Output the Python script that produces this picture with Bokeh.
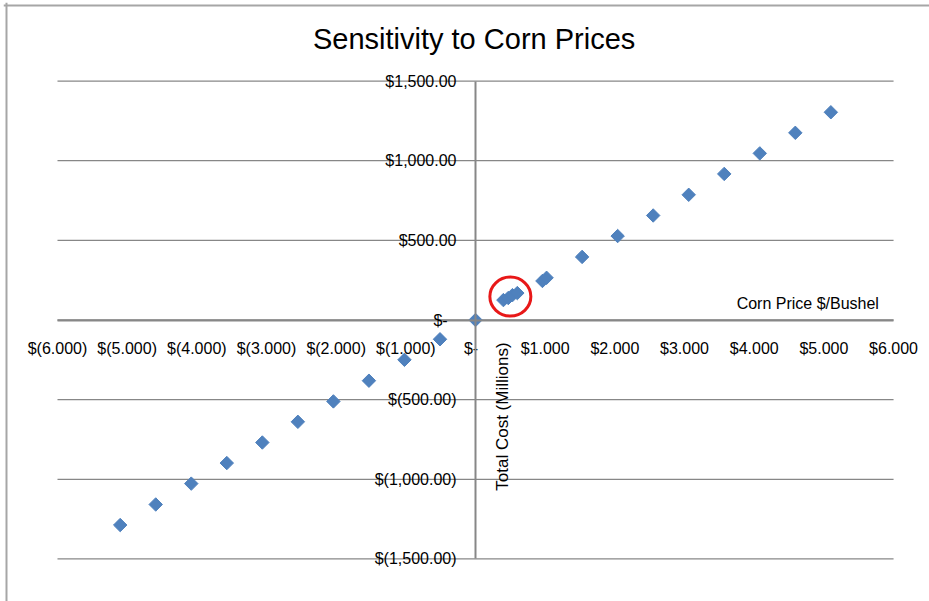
import numpy as np
from bokeh.plotting import figure
from bokeh.models import Range1d, FixedTicker, Label, ColumnDataSource, Span
from bokeh.embed import file_html
from bokeh.resources import INLINE

# ---- data ----
corn_price = [-5.10, -4.59, -4.08, -3.57, -3.06, -2.55, -2.04, -1.53, -1.02, -0.51,
              0.0, 0.40, 0.47, 0.53, 0.60, 0.96, 1.02,
              1.53, 2.04, 2.55, 3.06, 3.57, 4.08, 4.59, 5.10]
total_cost = [-1287, -1158, -1027, -898, -769, -639, -511, -381, -250, -121,
              0, 125, 138, 156, 169, 245, 265,
              396, 527, 656, 786, 917, 1046, 1175, 1304]
highlight_idx = [11, 12, 13, 14]

x_ticks = [-6, -5, -4, -3, -2, -1, 0, 1, 2, 3, 4, 5, 6]
x_tick_labels = ["$(6.000)", "$(5.000)", "$(4.000)", "$(3.000)", "$(2.000)", "$(1.000)",
                 "$-\u00a0\u00a0", "$1.000", "$2.000", "$3.000", "$4.000", "$5.000", "$6.000"]
y_ticks = [-1500, -1000, -500, 0, 500, 1000, 1500]
y_tick_labels = ["$(1,500.00)", "$(1,000.00)", "$(500.00)", "$-\u00a0\u00a0",
                 "$500.00", "$1,000.00", "$1,500.00"]

title_text = "Sensitivity to Corn Prices"
x_title = "Corn Price $/Bushel"
y_title = "Total Cost (Millions)"

FONT = "Liberation Sans"
GRAY = "#878787"
BLUE = "#4F81BD"
BORDER = "#A6A6A6"

# the frame fills the whole canvas; positions below are chosen so that
# the origin sits where the chart's axes cross
p = figure(width=929, height=601, output_backend="svg", toolbar_location=None,
           x_range=Range1d(-6.775, 6.516), y_range=Range1d(-1767, 1993),
           min_border_left=3, min_border_right=0, min_border_top=2,
           min_border_bottom=0)
p.outline_line_color = None
p.background_fill_color = "white"
p.border_fill_color = "white"

# chart border (left and top edges only are visible in the window)
p.add_layout(Span(location=-6.732, dimension="height", line_color=BORDER, line_width=2))
p.add_layout(Span(location=1974, dimension="width", line_color=BORDER, line_width=2))

# grid (horizontal lines spanning the x tick extent)
p.xgrid.visible = False
p.ygrid.visible = False
p.segment(x0=[x_ticks[0]] * len(y_ticks), x1=[x_ticks[-1]] * len(y_ticks),
          y0=y_ticks, y1=y_ticks, line_color=GRAY, line_width=1.3)

# axes crossing at origin
for ax in (p.xaxis, p.yaxis):
    ax.fixed_location = 0
    ax.axis_line_color = GRAY
    ax.axis_line_width = 2
    ax.major_tick_line_color = None
    ax.minor_tick_line_color = None
    ax.major_label_text_font = FONT
    ax.major_label_text_font_size = "16px"
    ax.major_label_text_color = "black"

p.xaxis.ticker = FixedTicker(ticks=x_ticks)
p.xaxis.bounds = (x_ticks[0], x_ticks[-1])
p.xaxis.major_label_overrides = {t: l for t, l in zip(x_ticks, x_tick_labels)}
p.xaxis.major_label_standoff = 14
p.yaxis.ticker = FixedTicker(ticks=y_ticks)
p.yaxis.bounds = (y_ticks[0], y_ticks[-1])
p.yaxis.major_label_overrides = {t: l for t, l in zip(y_ticks, y_tick_labels)}
p.yaxis.major_label_standoff = 13

# data points
src = ColumnDataSource(dict(x=corn_price, y=total_cost))
p.scatter("x", "y", source=src, marker="square", angle=np.pi / 4, size=9.5,
          fill_color=BLUE, line_color=BLUE)

# red highlight ring around the clustered points
cx = float(np.mean([corn_price[i] for i in highlight_idx]))
cy = float(np.mean([total_cost[i] for i in highlight_idx]))
p.ellipse(x=[cx], y=[cy], width=41, height=39, width_units="screen",
          height_units="screen", fill_alpha=0, line_color="#E81818", line_width=3)

# chart title and axis titles
p.add_layout(Label(x=-0.02, y=1766, text=title_text, text_align="center",
                   text_baseline="middle", text_font=FONT, text_font_size="29px",
                   text_color="black"))
p.add_layout(Label(x=5.79, y=106, text=x_title, text_align="right",
                   text_baseline="middle", text_font=FONT, text_font_size="16px",
                   text_color="black"))
p.add_layout(Label(x=0.39, y=-606, text=y_title, angle=np.pi / 2,
                   text_align="center", text_baseline="middle", text_font=FONT,
                   text_font_size="17px", text_color="black"))

open("out.html", "w").write(file_html(p, INLINE))
